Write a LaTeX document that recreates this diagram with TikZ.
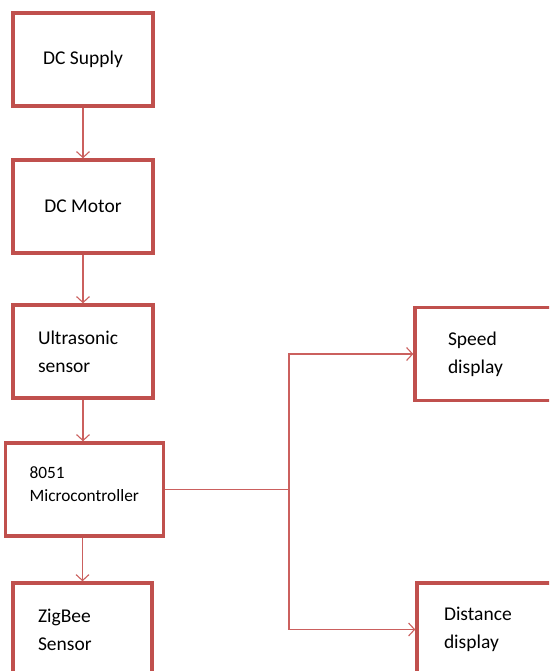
\documentclass[tikz,border=0pt]{standalone}
\usepackage{fontspec}
\setmainfont{Carlito}
\usetikzlibrary{arrows.meta}
\definecolor{boxred}{HTML}{C0504D}
\definecolor{linered}{RGB}{203,96,94}

\begin{document}
\begin{tikzpicture}[
  x=1pt, y=-1pt,
  font=\fontsize{19.5}{28}\selectfont,
  box/.style={draw=boxred, line width=3.4pt, minimum height=93pt, inner sep=0pt, fill=white},
  lbox/.style={box, align=left},
  arr/.style={draw=linered, line width=1.1pt, -{Straight Barb[length=6pt, width=13pt, line width=1.1pt]}},
  wire/.style={draw=linered, line width=1.1pt}]
\useasboundingbox (0,0) rectangle (549,671);
\clip (0,0) rectangle (549,671);
% ---- left column ----
\node[box, minimum width=140pt] (supply) at (83,59.5) {DC Supply};
\node[box, minimum width=140pt] (motor) at (83,206.5) {DC Motor};
\node[lbox, minimum width=140pt, inner xsep=25pt, text width=90pt] (ultra) at (83,351.5)
  {Ultrasonic\\sensor};
\node[lbox, minimum width=157pt, inner xsep=24pt, text width=110pt,
  font=\fontsize{17.3}{23}\selectfont] (micro) at (84.5,489.5)
  {8051\\Microcontroller\\[-12pt]\mbox{}};
\node[lbox, minimum width=139pt, inner xsep=25pt, text width=89pt] (zigbee) at (82.5,629.5)
  {ZigBee\\Sensor};
% ---- displays ----
\node[lbox, minimum width=160pt, inner xsep=33pt, text width=94pt] (speed) at (495,354)
  {Speed\\display};
\node[lbox, minimum width=160pt, inner xsep=27pt, text width=106pt] (dist) at (497,629.5)
  {Distance\\display};
% ---- connectors ----
\draw[arr] (supply) -- (motor);
\draw[arr] (motor) -- (ultra);
\draw[arr] (ultra.south) -- (ultra.south |- micro.north);
\draw[arr] (zigbee.north |- micro.south) -- (zigbee.north);
\coordinate (split) at (289,489.5);
\draw[wire] (micro.east) -- (split);
\draw[arr] (split) |- (speed.west);
\draw[arr] (split) |- (dist.west);
\end{tikzpicture}
\end{document}
